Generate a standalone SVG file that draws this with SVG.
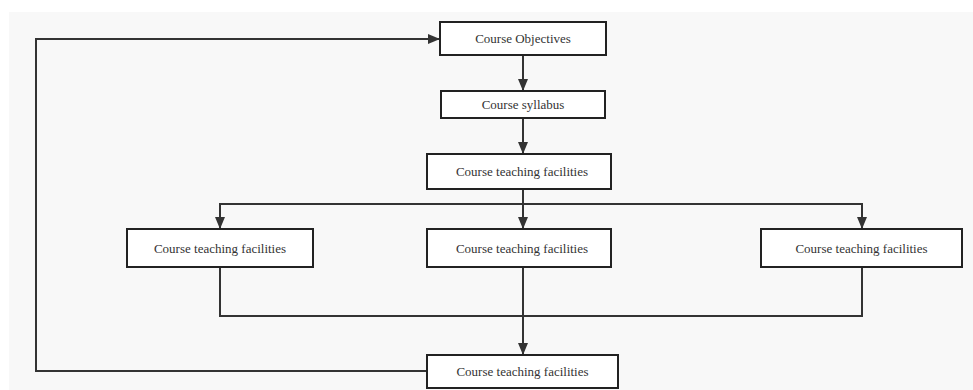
<svg xmlns="http://www.w3.org/2000/svg" width="973" height="390" viewBox="0 0 973 390">
<style>
.bg{fill:#f8f8f8}
.node rect{fill:#ffffff;stroke:#222222;stroke-width:2}
.node text{font-family:"Liberation Serif","Times New Roman","DejaVu Serif",serif;font-size:13px;fill:#333333;text-anchor:middle;dominant-baseline:central}
.conn{fill:none;stroke:#333333;stroke-width:2}
</style>
<defs>
<marker id="arr" viewBox="0 0 12 10" refX="12" refY="5" markerWidth="12" markerHeight="10" markerUnits="userSpaceOnUse" orient="auto">
<path d="M0,0 L12,5 L0,10 Z" fill="#333333"/>
</marker>
</defs>
<rect class="bg" x="9" y="12" width="964" height="378"/>
<g id="connectors">
<path class="conn" d="M523,55 V91" marker-end="url(#arr)"/>
<path class="conn" d="M523,118 V154" marker-end="url(#arr)"/>
<path class="conn" d="M523,189 V229" marker-end="url(#arr)"/>
<path class="conn" d="M220,229 V204 H862 V229"/>
<path class="conn" d="M220,204 V229" marker-end="url(#arr)"/>
<path class="conn" d="M862,204 V229" marker-end="url(#arr)"/>
<path class="conn" d="M220,267 V316 H862 V267"/>
<path class="conn" d="M523,267 V355" marker-end="url(#arr)"/>
<path class="conn" d="M427,371 H36 V39 H440" marker-end="url(#arr)"/>
</g>
<g id="n1" class="node"><rect x="440" y="22" width="166" height="33"/><text x="523" y="38.5">Course Objectives</text></g>
<g id="n2" class="node"><rect x="441" y="91" width="164" height="27"/><text x="523" y="104.5">Course syllabus</text></g>
<g id="n3" class="node"><rect x="427" y="154" width="184" height="35"/><text x="522" y="171.5">Course teaching facilities</text></g>
<g id="n4" class="node"><rect x="127" y="229" width="186" height="38"/><text x="220" y="248">Course teaching facilities</text></g>
<g id="n5" class="node"><rect x="427" y="229" width="184" height="38"/><text x="522" y="248">Course teaching facilities</text></g>
<g id="n6" class="node"><rect x="761" y="229" width="201" height="38"/><text x="861.5" y="248">Course teaching facilities</text></g>
<g id="n7" class="node"><rect x="427" y="355" width="191" height="33"/><text x="522.5" y="371.5">Course teaching facilities</text></g>
</svg>
